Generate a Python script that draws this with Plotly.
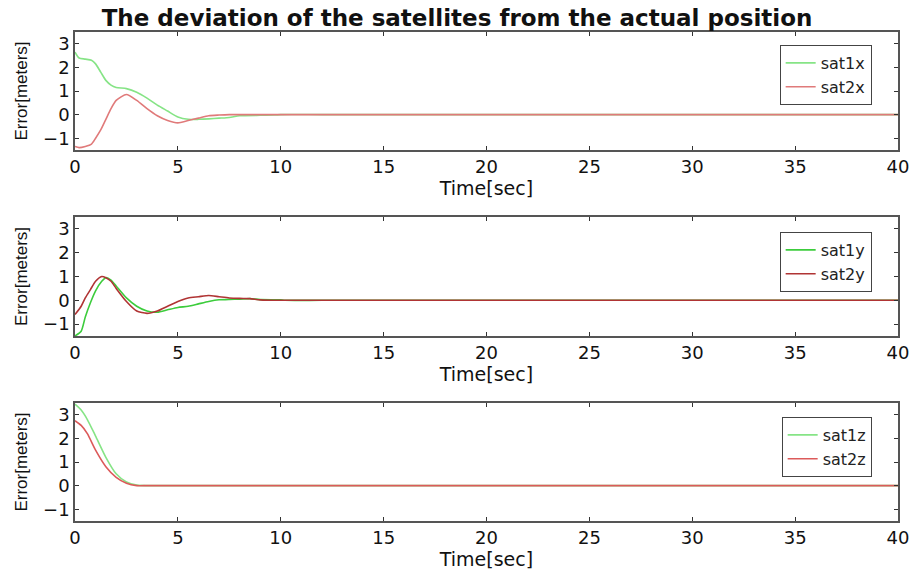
import plotly.graph_objects as go

# ---- data ----
t_x = [0, 0.2, 0.5, 0.8, 1.0, 1.25, 1.5, 1.75, 2.0, 2.5, 3.0, 3.5, 4.0, 4.5, 5.0, 5.5, 6.0, 6.5, 7.0, 7.5, 8.0, 9.0, 9.7, 10.0, 12.0, 20.0, 40.0]
sat1x = [2.65, 2.4, 2.35, 2.3, 2.15, 1.8, 1.45, 1.25, 1.15, 1.1, 0.95, 0.7, 0.4, 0.15, -0.1, -0.2, -0.2, -0.18, -0.15, -0.12, -0.05, -0.03, -0.02, 0.0, 0.0, 0.0, 0.0]
sat2x = [-1.35, -1.4, -1.35, -1.25, -1.0, -0.65, -0.2, 0.25, 0.6, 0.85, 0.6, 0.25, -0.05, -0.25, -0.35, -0.25, -0.15, -0.05, -0.02, 0.0, 0.0, 0.0, 0.0, 0.0, 0.0, 0.0, 0.0]

t_y = [0, 0.3, 0.5, 0.75, 1.0, 1.3, 1.5, 1.75, 2.0, 2.5, 3.0, 3.5, 4.0, 4.5, 5.0, 5.5, 6.0, 6.5, 7.0, 7.5, 8.0, 8.5, 9.0, 10.0, 10.2, 12.0, 20.0, 40.0]
sat1y = [-1.5, -1.3, -0.7, -0.1, 0.4, 0.8, 0.95, 0.85, 0.6, 0.1, -0.25, -0.45, -0.5, -0.4, -0.3, -0.25, -0.15, -0.05, 0.02, 0.04, 0.05, 0.07, 0.03, 0.02, 0.0, 0.0, 0.0, 0.0]
sat2y = [-0.6, -0.25, 0.1, 0.45, 0.8, 1.0, 0.95, 0.8, 0.5, -0.05, -0.45, -0.55, -0.45, -0.25, -0.05, 0.1, 0.15, 0.2, 0.15, 0.1, 0.08, 0.07, 0.02, 0.0, 0.0, 0.0, 0.0, 0.0]

t_z = [0, 0.3, 0.6, 1.0, 1.5, 2.0, 2.5, 3.0, 3.5, 5.0, 10.0, 20.0, 40.0]
sat1z = [3.45, 3.2, 2.8, 2.1, 1.2, 0.5, 0.15, 0.02, 0.0, 0.0, 0.0, 0.0, 0.0]
sat2z = [2.75, 2.55, 2.2, 1.5, 0.8, 0.35, 0.1, 0.0, 0.0, 0.0, 0.0, 0.0, 0.0]

x_ticks = [0, 5, 10, 15, 20, 25, 30, 35, 40]
y_ticks = [-1, 0, 1, 2, 3]

title_text = "The deviation of the satellites from the actual position"

FONT = "DejaVu Sans"
fig = go.Figure()

panels = [
    (t_x, sat1x, sat2x, "sat1x", "sat2x", "#86e486", "#e07a7a", ""),
    (t_y, sat1y, sat2y, "sat1y", "sat2y", "#3ccc3c", "#b03434", "2"),
    (t_z, sat1z, sat2z, "sat1z", "sat2z", "#86e486", "#dc5a5a", "3"),
]
domains = [[0.7587, 1.0], [0.3783, 0.6217], [0.0, 0.2413]]
leg_y = [0.9734, 0.591, 0.2127]

for i, (t, a, b, na, nb, ca, cb, sfx) in enumerate(panels):
    xa = "x" + sfx
    ya = "y" + sfx
    lg = "legend" + sfx
    fig.add_trace(go.Scatter(x=t, y=a, mode="lines", name=na, line=dict(color=ca, width=1.6, shape="spline", smoothing=0.6),
                             xaxis=xa, yaxis=ya, legend=lg))
    fig.add_trace(go.Scatter(x=t, y=b, mode="lines", name=nb, line=dict(color=cb, width=1.6, shape="spline", smoothing=0.6),
                             xaxis=xa, yaxis=ya, legend=lg))

axis_common = dict(showline=True, mirror="ticks", linecolor="#555", linewidth=1.5,
                   ticks="inside", ticklen=4, tickcolor="#333", showgrid=False, zeroline=False,
                   automargin=False,
                   tickfont=dict(family=FONT, size=18, color="#111"))

layout = dict(
    width=914, height=570,
    margin=dict(l=75, r=16, t=32, b=49),
    paper_bgcolor="white", plot_bgcolor="white",
    title=dict(text="<b>" + title_text + "</b>", x=0.5, xanchor="center", y=0.9684, yanchor="middle",
               font=dict(family=FONT, size=23, color="#111")),
    showlegend=True,
)
for i in range(3):
    sfx = "" if i == 0 else str(i + 1)
    layout["xaxis" + sfx] = dict(axis_common, range=[0, 40], tickvals=x_ticks,
                                 anchor="y" + sfx, domain=[0, 1],
                                 title=dict(text="Time[sec]", standoff=5,
                                            font=dict(family=FONT, size=19, color="#111")))
    layout["yaxis" + sfx] = dict(axis_common, range=[-1.5, 3.5], tickvals=y_ticks,
                                 anchor="x" + sfx, domain=domains[i],
                                 title=dict(text="Error[meters]", standoff=11,
                                            font=dict(family="Liberation Sans", size=17, color="#111")))
    layout["legend" + sfx] = dict(x=0.968, xanchor="right", y=leg_y[i], yanchor="top",
                                  bgcolor="white", bordercolor="#444", borderwidth=1,
                                  font=dict(family=FONT, size=16, color="#222"),
                                  entrywidth=90, entrywidthmode="pixels",
                                  tracegroupgap=0)

fig.update_layout(**layout)
fig.write_html("out.html", config={"displayModeBar": False},
               post_script="document.body.style.margin='0';document.body.style.padding='0';")
